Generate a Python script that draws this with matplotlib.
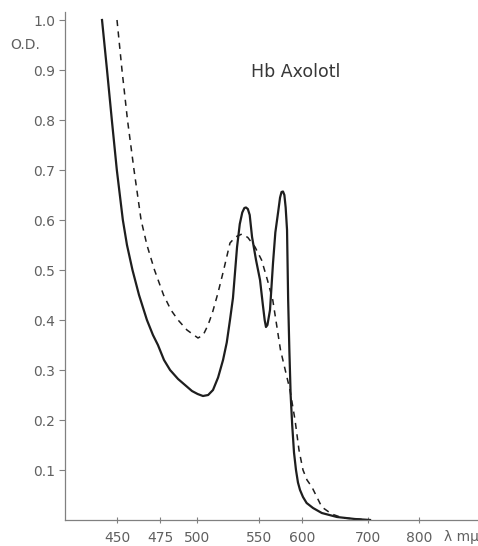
import numpy as np
import matplotlib
matplotlib.use("Agg")
import matplotlib.pyplot as plt

# wavelength axis of the original is not linear: tick positions as drawn
tick_nm = [450, 475, 500, 550, 600, 700, 800]
tick_pos = [117, 160, 197, 259, 302, 368, 419]
# ends of the axis (extrapolated)
scale_nm = [419.8] + tick_nm + [915.7]
scale_pos = [65] + tick_pos + [478]

y_ticks = [0.1, 0.2, 0.3, 0.4, 0.5, 0.6, 0.7, 0.8, 0.9, 1.0]
y_labels = ["0.1", "0.2", "0.3", "0.4", "0.5", "0.6", "0.7", "0.8", "0.9", "1.0"]

# solid curve
solid_nm = [441.3, 444.2, 447.0, 449.9, 453.4, 455.8, 459.0, 462.8, 467.4, 470.9,
            473.8, 477.7, 481.8, 487.2, 491.9, 496.6, 500.5, 504.8, 509.0, 512.9,
            517.0, 521.0, 524.0, 526.6, 529.0, 532.3, 534.5, 536.5, 538.2, 539.5,
            541.0, 542.5, 544.4, 547.6, 551.2, 554.5, 556.6, 558.1, 559.8, 562.8,
            566.3, 569.0, 572.1, 574.5, 576.2, 577.9, 579.5, 581.0, 582.6, 583.9,
            585.3, 586.8, 588.6, 590.7, 593.0, 595.3, 597.7, 601.5, 607.0, 616.7,
            630.0, 653.0, 680.0, 704.0]
solid_od = [1.000, 0.900, 0.800, 0.700, 0.600, 0.550, 0.500, 0.450, 0.400, 0.370,
            0.350, 0.320, 0.300, 0.282, 0.270, 0.258, 0.252, 0.248, 0.250, 0.260,
            0.285, 0.320, 0.355, 0.400, 0.444, 0.546, 0.592, 0.615, 0.624, 0.625,
            0.622, 0.610, 0.566, 0.520, 0.480, 0.430, 0.400, 0.386, 0.390, 0.420,
            0.514, 0.575, 0.614, 0.645, 0.656, 0.657, 0.650, 0.625, 0.580, 0.440,
            0.340, 0.250, 0.190, 0.135, 0.100, 0.075, 0.060, 0.046, 0.034, 0.024,
            0.014, 0.006, 0.002, 0.000]

# dashed curve
dash_nm = [450.0, 452.9, 456.1, 459.9, 464.0, 467.4, 471.8, 477.4, 482.4, 487.2,
           493.2, 500.8, 505.0, 508.9, 512.5, 516.9, 521.5, 526.6, 531.0, 536.3,
           541.0, 546.8, 553.0, 559.8, 566.0, 570.5, 575.0, 580.5, 586.0, 591.9,
           596.5, 601.5, 607.6, 615.0, 630.0, 645.0, 662.0, 704.0]
dash_od = [1.000, 0.900, 0.800, 0.700, 0.600, 0.550, 0.500, 0.450, 0.420, 0.400,
           0.380, 0.364, 0.370, 0.390, 0.415, 0.454, 0.500, 0.554, 0.566, 0.572,
           0.565, 0.546, 0.520, 0.480, 0.440, 0.390, 0.340, 0.300, 0.260, 0.200,
           0.140, 0.100, 0.080, 0.066, 0.026, 0.012, 0.004, 0.000]


def forward(x):
    return np.interp(x, scale_nm, scale_pos)


def inverse(p):
    return np.interp(p, scale_pos, scale_nm)


fig = plt.figure(figsize=(4.78, 5.46), dpi=100)
ax = fig.add_axes([65 / 478, 26 / 546, 413 / 478, 508 / 546])
ax.set_xscale("function", functions=(forward, inverse))

ink = "#1e1e1e"
grey = "#808080"

ax.plot(solid_nm, solid_od, color=ink, lw=1.6, solid_joinstyle="round")
ax.plot(dash_nm, dash_od, color=ink, lw=1.1, dashes=(4, 3.5))

ax.set_xlim(scale_nm[0], scale_nm[-1])
ax.set_ylim(0, 1.016)

ax.set_xticks(tick_nm)
ax.set_xticklabels([str(t) for t in tick_nm])
ax.set_yticks(y_ticks)
ax.set_yticklabels(y_labels)
ax.minorticks_off()

for side in ["top", "right"]:
    ax.spines[side].set_visible(False)
for side in ["left", "bottom"]:
    ax.spines[side].set_color(grey)
    ax.spines[side].set_linewidth(0.9)

ax.tick_params(axis="y", direction="out", length=4, width=0.8, color=grey,
               labelcolor="#606060", labelsize=10, pad=3)
ax.tick_params(axis="x", direction="inout", length=4, width=0.8, color=grey,
               labelcolor="#606060", labelsize=10, pad=6)

fig.text(10 / 478, 1 - 45 / 546, "O.D.", color="#606060", fontsize=10, va="center")
fig.text(296 / 478, 1 - 72 / 546, "Hb Axolotl", color="#383838", fontsize=12.5,
         ha="center", va="center")
fig.text(461 / 478, 1 - 537 / 546, "λ mμ", color="#606060", fontsize=10,
         ha="center", va="center")

fig.savefig("out.png", dpi=100)
